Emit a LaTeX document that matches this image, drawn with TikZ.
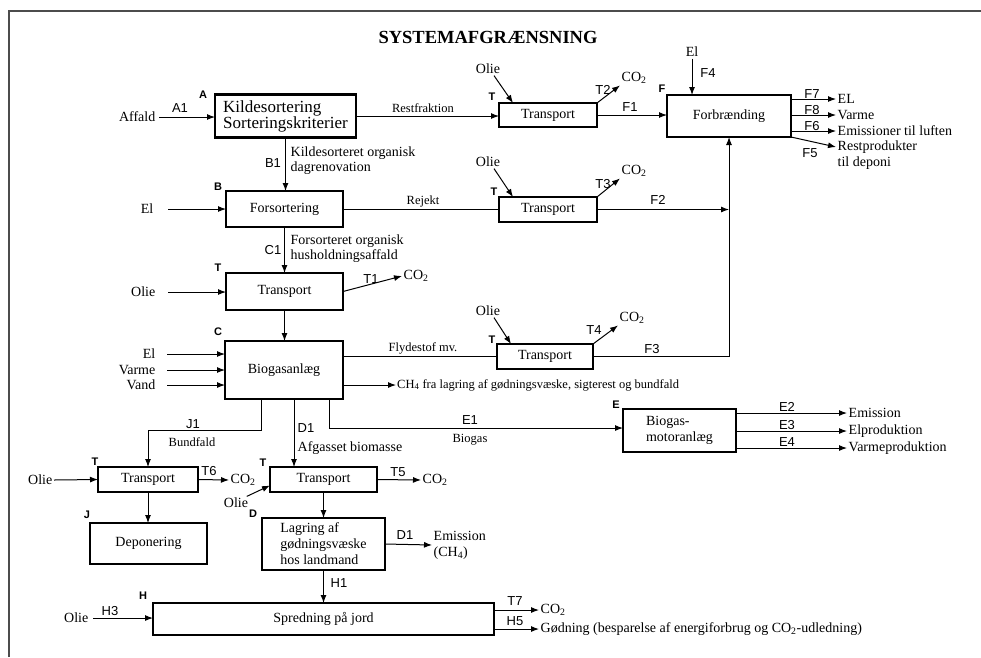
\documentclass[tikz,border=0pt]{standalone}
\usepackage{fontspec}
\setmainfont{Liberation Serif}
\newfontfamily\lsans{Liberation Sans}
\usetikzlibrary{arrows.meta}
\begin{document}
\begin{tikzpicture}[x=1pt,y=-1pt,
  arr/.style={-{Latex[length=8pt,width=6pt]}, line width=1pt},
  ln/.style={line width=1pt},
  bigbox/.style={draw, line width=2.6pt, inner sep=0pt, outer sep=0pt, font=\fontsize{14}{16}\selectfont},
  thinbox/.style={draw, line width=1.5pt, inner sep=0pt, outer sep=0pt, font=\fontsize{14}{16}\selectfont},
  txt/.style={inner sep=1.5pt, font=\fontsize{14}{16}\selectfont},
  sm/.style={inner sep=1pt, font=\fontsize{12.5}{14}\selectfont},
  lab/.style={inner sep=0pt, font=\lsans\fontsize{13}{13}\selectfont},
  ltr/.style={inner sep=0pt, font=\lsans\bfseries\fontsize{11}{12}\selectfont},
]
\useasboundingbox (0,0) rectangle (981,657);
\draw[line width=1.5pt, black!70] (9,657) -- (9,11) -- (981,11);

\node[font=\bfseries\fontsize{18.5}{20}\selectfont] (title) at (488,37) {SYSTEMAFGRÆNSNING};

% ---------- row A / F ----------
\node[bigbox, minimum width=141pt, minimum height=43pt, align=left, font=\fontsize{17}{16}\selectfont] (A) at (285.5,116) {Kildesortering\\Sorteringskriterier};
\node[ltr] (lA) at (203,95) {A};
\node[txt, anchor=east] (affald) at (157,117) {Affald};
\draw[arr, shorten <=2pt] (affald.east) -- (affald.east -| A.west);
\node[lab] (lA1) at (180,108) {A1};

\node[thinbox, minimum width=98pt, minimum height=24pt] (T2) at (548,115) {Transport};
\node[ltr] (lT2b) at (492,97) {T};
\draw[arr] (A.east) -- (A.east -| T2.west);
\node[sm] (rest) at (423,108) {Restfraktion};
\node[txt] (o2) at (488,69) {Olie};
\draw[arr] ([xshift=6pt]o2.south) -- ([xshift=14pt]T2.north west);
\node[txt, anchor=west] (c2) at (620,78) {CO\textsubscript{2}};
\draw[arr] (T2.north east) -- (c2.south west);
\node[lab] (lT2) at (603,90) {T2};

\node[bigbox, minimum width=124pt, minimum height=42pt] (F) at (729,116) {Forbrænding};
\node[ltr] (lF) at (662,89) {F};
\draw[arr] (T2.east) -- (T2.east -| F.west);
\node[lab] (lF1) at (630,107) {F1};
\node[txt] (elF) at (692,52) {El};
\draw[arr] (elF.south) -- (elF.south |- F.north);
\node[lab] (lF4) at (708,73) {F4};

\node[txt, anchor=west] (oEL) at (836,99) {EL};
\node[txt, anchor=west] (oVa) at (836,115) {Varme};
\node[txt, anchor=west] (oEm) at (836,131) {Emissioner til luften};
\node[txt, anchor=north west, align=left] (oRe) at (836,139) {Restprodukter\\til deponi};
\coordinate (f5e) at (836,147);
\draw[arr] (oEL.west -| F.east) -- (oEL.west);
\draw[arr] (oVa.west -| F.east) -- (oVa.west);
\draw[arr] (oEm.west -| F.east) -- (oEm.west);
\draw[arr] (F.south east) -- (f5e);
\node[lab] (lF7) at (812,94) {F7};
\node[lab] (lF8) at (812,110) {F8};
\node[lab] (lF6) at (812,126) {F6};
\node[lab] (lF5) at (810,153) {F5};

% ---------- row B ----------
\node[thinbox, minimum width=117pt, minimum height=36pt] (B) at (284.5,209) {Forsortering};
\node[ltr] (lB) at (218,187) {B};
\node[txt, anchor=east] (elB) at (155,209) {El};
\draw[arr, shorten <=13pt] (elB.east) -- (elB.east -| B.west);
\draw[arr] (A.south) -- (A.south |- B.north);
\node[lab] (lB1) at (273,163) {B1};
\node[txt, anchor=west, align=left, font=\fontsize{14}{15}\selectfont] (kdo) at (289,161) {Kildesorteret organisk\\dagrenovation};

\node[thinbox, minimum width=98pt, minimum height=25pt] (T3) at (548,209.5) {Transport};
\node[ltr] (lT3b) at (494,192) {T};
\draw[ln] (B.east) -- (B.east -| T3.west);
\node[sm] (rej) at (423,201) {Rejekt};
\node[txt] (o3) at (488,162) {Olie};
\draw[arr] ([xshift=6pt]o3.south) -- ([xshift=14pt]T3.north west);
\node[txt, anchor=west] (c3) at (620,171) {CO\textsubscript{2}};
\draw[arr] (T3.north east) -- (c3.south west);
\node[lab] (lT3) at (603,184) {T3};
\draw[arr] (T3.east) -- (T3.east -| F.south);
\node[lab] (lF2) at (658,200) {F2};

% ---------- row T1 ----------
\node[thinbox, minimum width=117pt, minimum height=37pt] (T1) at (284.5,291.5) {Transport};
\node[ltr] (lT1b) at (218,268) {T};
\draw[arr] (B.south) -- (B.south |- T1.north);
\node[lab] (lC1) at (273,250) {C1};
\node[txt, anchor=west, align=left, font=\fontsize{14}{15}\selectfont] (fho) at (289,249) {Forsorteret organisk\\husholdningsaffald};
\node[txt, anchor=east] (o1) at (157,292) {Olie};
\draw[arr, shorten <=11pt] (o1.east) -- (o1.east -| T1.west);
\node[txt, anchor=west] (c1) at (402,276) {CO\textsubscript{2}};
\draw[arr] (T1.east) -- (c1.west);
\node[lab] (lT1) at (371,279) {T1};

% ---------- row C ----------
\node[bigbox, minimum width=118pt, minimum height=58pt] (C) at (284,370) {Biogasanlæg};
\node[ltr] (lC) at (218,332) {C};
\draw[arr] (T1.south) -- (T1.south |- C.north);
\node[txt, anchor=east] (elC) at (157,354) {El};
\node[txt, anchor=east] (vaC) at (157,370) {Varme};
\node[txt, anchor=east] (vdC) at (157,385) {Vand};
\draw[arr, shorten <=10pt] (elC.east) -- (elC.east -| C.west);
\draw[arr, shorten <=10pt] (vaC.east) -- (vaC.east -| C.west);
\draw[arr, shorten <=10pt] (vdC.east) -- (vdC.east -| C.west);

\node[thinbox, minimum width=96pt, minimum height=25pt] (T4) at (545,356.5) {Transport};
\node[ltr] (lT4b) at (492,340) {T};
\draw[ln] (T4.west -| C.east) -- (T4.west);
\node[sm] (fly) at (423,348) {Flydestof mv.};
\node[txt] (o4) at (488,311) {Olie};
\draw[arr] ([xshift=6pt]o4.south) -- ([xshift=14pt]T4.north west);
\node[txt, anchor=west] (c4) at (618,318) {CO\textsubscript{2}};
\draw[arr] (T4.north east) -- (c4.south west);
\node[lab] (lT4) at (594,330) {T4};
\draw[arr] (T4.east) -| (F.south);
\node[lab] (lF3) at (652,349) {F3};

\node[sm, anchor=west] (ch4) at (396,385) {CH\textsubscript{4} fra lagring af gødningsvæske, sigterest og bundfald};
\draw[arr] (ch4.west -| C.east) -- (ch4.west);

% ---------- outputs of C ----------
\node[thinbox, minimum width=100pt, minimum height=25pt] (T6) at (148,479.5) {Transport};
\node[thinbox, minimum width=107pt, minimum height=25pt] (T5) at (323.5,479.5) {Transport};
\node[bigbox, minimum width=113pt, minimum height=43pt, align=left] (E) at (679.5,430.5) {Biogas-\\motoranlæg};
\node[ltr] (lE) at (616,405) {E};

\draw[arr] ([xshift=-23pt]C.south) -- ++(0,31) -| (T6.north);
\draw[arr] ([xshift=10pt]C.south) -- ([xshift=10pt]C.south |- T5.north);
\draw[arr] ([xshift=45pt]C.south) |- ([yshift=2.5pt]E.west);
\node[lab] (lJ1) at (193,424) {J1};
\node[sm] (bund) at (192,442) {Bundfald};
\node[lab] (lD1) at (306,428) {D1};
\node[txt, anchor=west] (afg) at (296,448) {Afgasset biomasse};
\node[lab] (lE1) at (470,420) {E1};
\node[sm] (biog) at (470,440) {Biogas};

\node[txt, anchor=west] (oE2) at (847,413) {Emission};
\node[txt, anchor=west] (oE3) at (847,431) {Elproduktion};
\node[txt, anchor=west] (oE4) at (847,448) {Varmeproduktion};
\draw[arr] (oE2.west -| E.east) -- (oE2.west);
\draw[arr] (oE3.west -| E.east) -- (oE3.west);
\draw[arr] (oE4.west -| E.east) -- (oE4.west);
\node[lab] (lE2) at (787,407) {E2};
\node[lab] (lE3) at (787,425) {E3};
\node[lab] (lE4) at (787,442) {E4};

% ---------- T6 / J ----------
\node[ltr] (lT6b) at (95,462) {T};
\node[txt, anchor=east] (o6) at (54,480) {Olie};
\draw[arr] (o6.east) -- (T6.west);
\node[txt, anchor=west] (c6) at (229,480) {CO\textsubscript{2}};
\draw[arr] (T6.east) -- (c6.west);
\node[lab] (lT6) at (209,471) {T6};
\node[bigbox, minimum width=117pt, minimum height=41pt] (J) at (148.5,543.5) {Deponering};
\node[ltr] (lJ) at (87,515) {J};
\draw[arr] (T6.south) -- (T6.south |- J.north);

% ---------- T5 / D ----------
\node[ltr] (lT5b) at (263,463) {T};
\node[txt] (o7) at (236,503) {Olie};
\draw[arr] ([xshift=-3pt]o7.north east) -- ([yshift=-6pt]T5.west);
\node[txt, anchor=west] (c5) at (421,480) {CO\textsubscript{2}};
\draw[arr] (T5.east) -- (c5.west);
\node[lab] (lT5) at (398,472) {T5};
\node[bigbox, minimum width=123pt, minimum height=52pt, align=left] (D) at (323.5,544) {Lagring af\\gødningsvæske\\hos landmand};
\node[ltr] (lD) at (253,514) {D};
\draw[arr] (T5.south) -- (T5.south |- D.north);
\node[txt, anchor=west, align=left] (emD) at (432,545) {Emission\\(CH\textsubscript{4})};
\draw[arr] (D.east) -- (emD.west);
\node[lab] (lD1b) at (405,535) {D1};

% ---------- H ----------
\node[bigbox, minimum width=341pt, minimum height=32pt] (H) at (323.5,619) {Spredning på jord};
\node[ltr] (lH) at (143,596) {H};
\draw[arr] (D.south) -- (D.south |- H.north);
\node[lab] (lH1) at (339,583) {H1};
\node[txt, anchor=east] (o8) at (90,618) {Olie};
\draw[arr, shorten <=3pt] (o8.east) -- (o8.east -| H.west);
\node[lab] (lH3) at (110,611) {H3};
\node[txt, anchor=west] (c8) at (539,610) {CO\textsubscript{2}};
\node[txt, anchor=west] (godn) at (539,629) {Gødning (besparelse af energiforbrug og CO\textsubscript{2}-udledning)};
\draw[arr] (c8.west -| H.east) -- (c8.west);
\draw[arr] (godn.west -| H.east) -- (godn.west);
\node[lab] (lT7) at (515,601) {T7};
\node[lab] (lH5) at (515,621) {H5};
\end{tikzpicture}
\end{document}
